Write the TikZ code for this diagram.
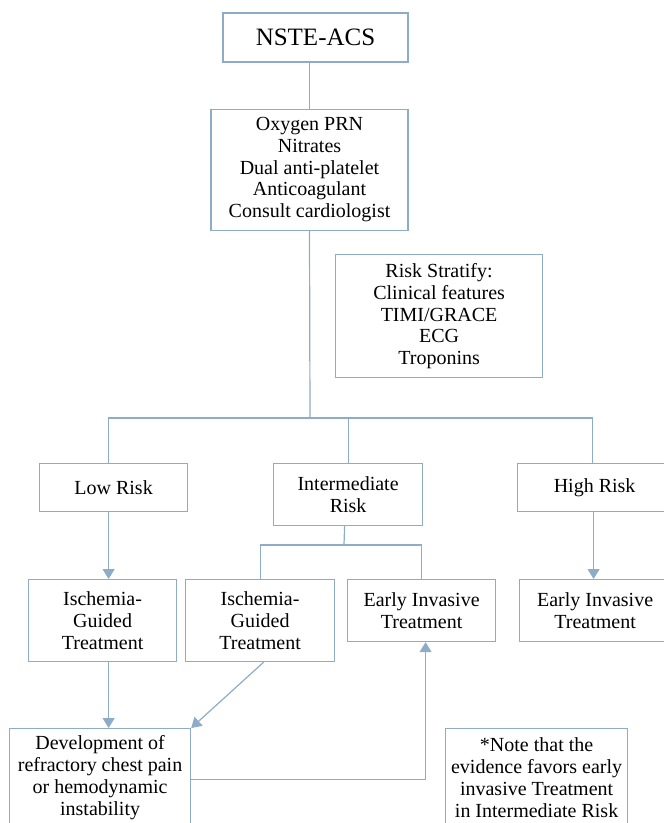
\documentclass[tikz,border=0pt]{standalone}
\usepackage{fontspec}
\setmainfont{Liberation Serif}
\usetikzlibrary{positioning,arrows.meta}
\definecolor{flowline}{RGB}{140,172,200}
\tikzset{
    box/.style={draw=flowline, line width=1.2pt, align=center, inner sep=0pt,
        font=\fontsize{20}{21.7}\selectfont},
    link/.style={draw=flowline, line width=1.2pt},
    arrow/.style={link, -{Triangle[width=12pt,length=10pt]}}
}
\begin{document}
\begin{tikzpicture}[x=1pt, y=-1pt]
    \useasboundingbox (0,0) rectangle (664,823);
    \clip (0,0) rectangle (664,823);
    \node[box, minimum width=185pt, minimum height=49pt,
        font=\fontsize{25}{28}\selectfont] (acs) at (315.5,37.5) {NSTE-ACS};
    \node[box, minimum width=197pt, minimum height=121pt, below=46pt of acs, xshift=-6pt] (meds)
        {Oxygen PRN\\Nitrates\\Dual anti-platelet\\Anticoagulant\\Consult cardiologist};
    \node[box, anchor=north west, minimum width=207pt, minimum height=123pt] (risk) at (335,254)
        {Risk Stratify:\\Clinical features\\TIMI/GRACE\\ECG\\Troponins};
    \node[box, anchor=north west, minimum width=148pt, minimum height=48pt] (low) at (39,463) {Low Risk};
    \node[box, anchor=north west, minimum width=149pt, minimum height=62pt] (inter) at (273,463) {Intermediate\\Risk};
    \node[box, anchor=north west, minimum width=154pt, minimum height=48pt] (high) at (517,463) {High Risk};
    \node[box, anchor=north west, minimum width=148pt, minimum height=82pt] (isch1) at (28,579) {Ischemia-\\Guided\\Treatment};
    \node[box, anchor=north west, minimum width=149pt, minimum height=82pt] (isch2) at (185,579) {Ischemia-\\Guided\\Treatment};
    \node[box, anchor=north west, minimum width=148pt, minimum height=62pt] (early1) at (347,579) {Early Invasive\\Treatment};
    \node[box, anchor=north west, minimum width=151pt, minimum height=62pt] (early2) at (519,579) {Early Invasive\\Treatment};
    \node[box, anchor=north west, minimum width=181pt, minimum height=98pt] (devel) at (9,728)
        {Development of\\refractory chest pain\\or hemodynamic\\instability};
    \node[box, anchor=north west, minimum width=182pt, minimum height=98pt] (note) at (445,728)
        {*Note that the\\evidence favors early\\invasive Treatment\\in Intermediate Risk};
    \coordinate (split) at (310,418);
    \coordinate (isplit) at (344,545);
    \draw[link] (meds.north |- acs.south) -- (meds.north);
    \draw[link] (meds.south) -- (split);
    \draw[link] ([xshift=-5pt]low.north) |- (split) -| ([xshift=-2pt]high.north);
    \draw[link] (split -| inter.north) -- (inter.north);
    \draw[arrow] ([xshift=-5pt]low.south) -- ([xshift=-5pt]low.south |- isch1.north);
    \draw[arrow] ([xshift=-1pt]high.south) -- ([xshift=-1pt]high.south |- early2.north);
    \draw[link] ([xshift=-3.5pt]inter.south) -- (isplit);
    \draw[link] (isch2.north) |- (isplit) -| (early1.north);
    \draw[arrow] ([xshift=6pt]isch1.south) -- ([xshift=6pt]isch1.south |- devel.north);
    \draw[arrow] ([xshift=3.5pt]isch2.south) -- (devel.north east);
    \draw[arrow] ([yshift=-2pt]devel.east) -| ([xshift=4pt]early1.south);
\end{tikzpicture}
\end{document}
